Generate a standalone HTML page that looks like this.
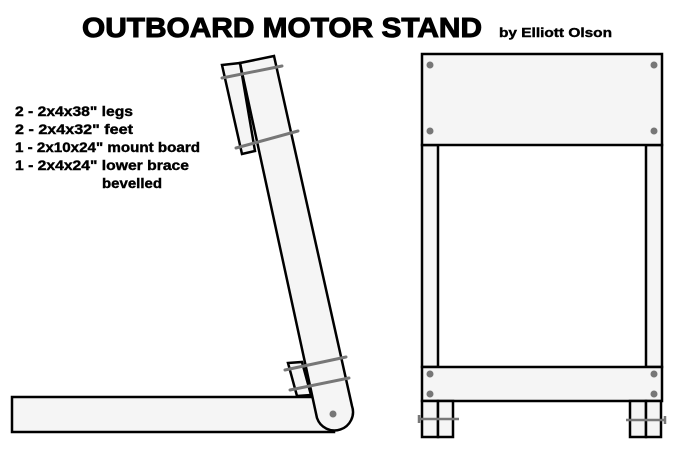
<!DOCTYPE html>
<html><head><meta charset="utf-8"><style>
html,body{margin:0;padding:0;background:#fff;}
svg{display:block}
text{font-family:"Liberation Sans",sans-serif;font-weight:bold;fill:#000}
</style></head><body>
<svg width="680" height="460" viewBox="0 0 680 460" xmlns="http://www.w3.org/2000/svg">
<text x="82" y="37" font-size="28" textLength="400" lengthAdjust="spacingAndGlyphs" stroke="#000" stroke-width="1">OUTBOARD MOTOR STAND</text>
<text x="499" y="37" font-size="13" textLength="113" lengthAdjust="spacingAndGlyphs" stroke="#000" stroke-width="0.4">by  Elliott Olson</text>
<g font-size="13.5" stroke="#000" stroke-width="0.4">
<text x="15" y="116" textLength="118" lengthAdjust="spacingAndGlyphs">2 - 2x4x38"  legs</text>
<text x="15" y="134" textLength="118" lengthAdjust="spacingAndGlyphs">2 - 2x4x32"  feet</text>
<text x="15" y="152" textLength="185" lengthAdjust="spacingAndGlyphs">1 - 2x10x24" mount board</text>
<text x="15" y="170" textLength="174" lengthAdjust="spacingAndGlyphs">1 - 2x4x24"  lower brace</text>
<text x="102" y="188" textLength="60" lengthAdjust="spacingAndGlyphs">bevelled</text>
</g>
<g stroke="#000" stroke-width="2.5" fill="#f5f5f5">
<rect x="12" y="397" width="322" height="35"/>
<polygon points="288,363 302,362 311,395 297,396"/>
<path d="M240,63 L274,56 L352,406 A18,18 0 0 1 317,418 Z"/>
<polygon points="222,65 240,63 255,151 242,154"/>
</g>
<circle cx="333" cy="414" r="3.5" fill="#777"/>
<g stroke="#777" stroke-width="3" stroke-linecap="round">
<line x1="222" y1="78" x2="282" y2="66"/>
<line x1="236" y1="148" x2="298" y2="131"/>
<line x1="285" y1="370" x2="346" y2="357"/>
<line x1="290" y1="390" x2="349" y2="378"/>
</g>
<g stroke="#000" stroke-width="2.5" fill="#f5f5f5">
<rect x="422" y="145" width="16" height="222"/>
<rect x="646" y="145" width="16" height="222"/>
<rect x="422" y="54" width="240" height="91"/>
<rect x="422" y="367" width="240" height="34"/>
<rect x="422" y="401" width="16" height="36"/>
<rect x="438" y="401" width="15" height="36"/>
<rect x="630" y="401" width="16" height="36"/>
<rect x="646" y="401" width="15" height="36"/>
</g>
<g fill="#777">
<circle cx="430" cy="65" r="3.5"/><circle cx="654" cy="65" r="3.5"/>
<circle cx="430" cy="131" r="3.5"/><circle cx="654" cy="131" r="3.5"/>
<circle cx="430" cy="374" r="3.5"/><circle cx="654" cy="374" r="3.5"/>
<circle cx="430" cy="394" r="3.5"/><circle cx="654" cy="394" r="3.5"/>
</g>
<g stroke="#777" stroke-width="2.5">
<line x1="418" y1="419" x2="459" y2="419"/>
<line x1="626" y1="420" x2="666" y2="420"/>
<line x1="419" y1="415" x2="419" y2="423"/>
<line x1="665" y1="416" x2="665" y2="424"/>
</g>
</svg>
</body></html>
